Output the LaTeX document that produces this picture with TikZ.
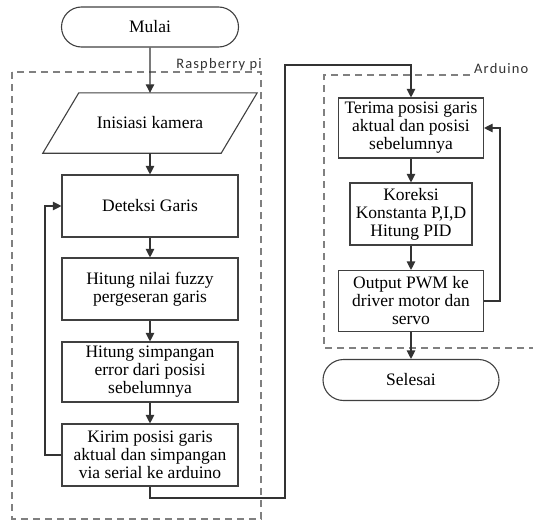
\documentclass[tikz,border=0pt]{standalone}
\usepackage{fontspec}
\setmainfont{Liberation Serif}
\newfontfamily\labelfont[LetterSpace=8]{Carlito}
\usetikzlibrary{arrows.meta}
\usetikzlibrary{positioning}
\usetikzlibrary{shapes.misc}

\begin{document}
\begin{tikzpicture}[x=1pt, y=-1pt,
    font=\fontsize{17.5}{18}\selectfont,
    every node/.style={align=center, inner sep=0pt},
    box/.style={draw=black!75, line width=1.1pt, minimum width=176pt, minimum height=62pt},
    term/.style={draw=black!75, line width=1.1pt, rounded rectangle, minimum width=177pt, minimum height=40pt},
    flow/.style={draw=black!80, line width=1.1pt, -{Triangle[length=8.5pt, width=8.5pt]}},
    link/.style={draw=black!75, line width=1.1pt},
    group/.style={draw=black!50, line width=1.2pt, dash pattern=on 7pt off 5pt},
    grouplabel/.style={font=\labelfont\fontsize{14.5}{14.5}\selectfont, text=black!80}]
    \useasboundingbox (0,0) rectangle (533,522);

    \draw[group] (12,72) rectangle (261,519);
    \node[grouplabel, anchor=base east] (rpilabel) at (262,68) {Raspberry pi};
    \draw[group] (470,75) -- (324,75) -- (324,348) -- (533,348);
    \node[grouplabel, anchor=base west] (arduinolabel) at (474,73) {Arduino};

    \node[term] (start) at (150,27) {Mulai};
    \node[minimum width=178pt, minimum height=60pt] (init) at (150,123) {Inisiasi kamera};
    \draw[link] ([xshift=18pt]init.north west) -- ([xshift=18pt]init.north east)
        -- ([xshift=-18pt]init.south east) -- ([xshift=-18pt]init.south west) -- cycle;
    \node[box] (detect) at (150,206) {Deteksi Garis};
    \node[box] (fuzzy) at (150,289) {Hitung nilai fuzzy\\pergeseran garis};
    \node[box, minimum height=60pt] (error) at (150,372) {Hitung simpangan\\error dari posisi\\sebelumnya};
    \node[box] (send) at (150,455) {Kirim posisi garis\\aktual dan simpangan\\via serial ke arduino};

    \node[box, minimum width=145pt, minimum height=60pt] (receive) at (411,128) {Terima posisi garis\\aktual dan posisi\\sebelumnya};
    \node[box, minimum width=122pt] (pid) at (411,214) {Koreksi\\Konstanta P,I,D\\Hitung PID};
    \node[box, minimum width=145pt, minimum height=61pt] (pwm) at (411,301) {Output PWM ke\\driver motor dan\\servo};
    \node[term, minimum width=176pt, minimum height=41pt] (stop) at (411,380) {Selesai};

    \coordinate (loopL) at (45,0);
    \coordinate (busB) at (285,498);
    \coordinate (busT) at (285,65);
    \coordinate (loopR) at (500,0);

    \draw[flow] (start) -- (init);
    \draw[flow] (init) -- (detect);
    \draw[flow] (detect) -- (fuzzy);
    \draw[flow] (fuzzy) -- (error);
    \draw[flow] (error) -- (send);
    \draw[flow] (send.west) -- (send.west -| loopL) |- (detect.west);
    \draw[flow] (send.south) |- (busB) -- (busT) -| (receive.north);
    \draw[flow] (receive) -- (pid);
    \draw[flow] (pid) -- (pwm);
    \draw[flow] (pwm) -- (stop);
    \draw[flow] (pwm.east) -- (pwm.east -| loopR) |- (receive.east);
\end{tikzpicture}
\end{document}
